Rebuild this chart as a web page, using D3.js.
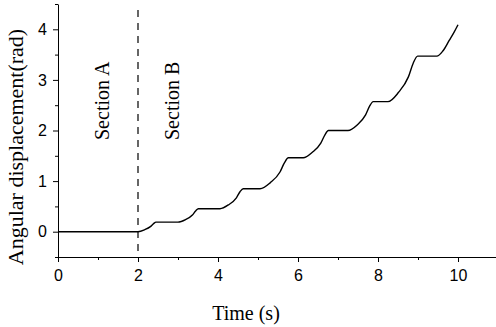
<!DOCTYPE html>
<html>
<head>
<meta charset="utf-8">
<script src="https://cdn.jsdelivr.net/npm/d3@7"></script>
<style>
  body { margin: 0; background: #fff; }
  svg { display: block; }
</style>
</head>
<body>
<svg id="chart" width="496" height="327"></svg>
<script>
// Angular displacement (rad) vs time (s)
const timeS = [0, 2.0, 2.17, 2.31, 2.39, 2.45, 3.0, 3.19, 3.36, 3.44, 3.51, 4.05, 4.26, 4.46, 4.55, 4.63,
  5.05, 5.31, 5.55, 5.66, 5.76, 6.13, 6.36, 6.57, 6.67, 6.76, 7.25, 7.48, 7.69, 7.79, 7.88,
  8.25, 8.51, 8.76, 8.88, 8.99, 9.47, 9.62, 9.78, 9.9, 10.0];
const angleRad = [0, 0, 0.04, 0.10, 0.16, 0.19, 0.19, 0.24, 0.33, 0.41, 0.455, 0.455, 0.53, 0.67, 0.79, 0.85,
  0.85, 0.97, 1.18, 1.36, 1.46, 1.46, 1.57, 1.75, 1.91, 2.0, 2.0, 2.11, 2.31, 2.48, 2.57,
  2.57, 2.75, 3.06, 3.33, 3.47, 3.47, 3.57, 3.78, 3.94, 4.09];

const xTicks = [0, 2, 4, 6, 8, 10];
const xMinorTicks = [1, 3, 5, 7, 9, 11];
const yTicks = [0, 1, 2, 3, 4];
const yMinorTicks = [-0.5, 0.5, 1.5, 2.5, 3.5, 4.5];
const sectionBoundary = 2;
const sectionLabels = ['Section A', 'Section B'];

const svg = d3.select('#chart');
const margin = { top: 4, left: 58 };
const width = 440;
const height = 253;

const g = svg.append('g')
  .attr('transform', `translate(${margin.left},${margin.top})`);

const x = d3.scaleLinear().domain([0, 11]).range([0, width]);
const y = d3.scaleLinear().domain([-0.5, 4.5]).range([height, 0]);

// X axis (major + minor ticks, outward)
g.append('g')
  .attr('transform', `translate(0,${height})`)
  .call(d3.axisBottom(x).tickValues(xTicks).tickFormat(d3.format('d'))
    .tickSize(5).tickSizeOuter(0).tickPadding(8));
g.append('g')
  .attr('transform', `translate(0,${height})`)
  .call(d3.axisBottom(x).tickValues(xMinorTicks).tickSize(3).tickSizeOuter(0).tickFormat(''))
  .select('.domain').remove();

// Y axis
g.append('g')
  .call(d3.axisLeft(y).tickValues(yTicks).tickFormat(d3.format('d'))
    .tickSize(5).tickSizeOuter(0).tickPadding(6));
g.append('g')
  .call(d3.axisLeft(y).tickValues(yMinorTicks).tickSize(3).tickSizeOuter(0).tickFormat(''))
  .select('.domain').remove();

g.selectAll('.tick line, .domain').attr('stroke', '#000').attr('stroke-width', 1);
g.selectAll('.tick text')
  .style('font-family', '"Liberation Sans", Arial, sans-serif')
  .style('font-size', '16px')
  .attr('fill', '#000');

// Section divider
g.append('line')
  .attr('x1', x(sectionBoundary))
  .attr('x2', x(sectionBoundary))
  .attr('y1', 6)
  .attr('y2', height)
  .attr('stroke', '#000')
  .attr('stroke-width', 1.2)
  .attr('stroke-dasharray', '7,6');

// Section labels
const serif = '"Liberation Serif", "Times New Roman", serif';
[[sectionLabels[0], 109, 140], [sectionLabels[1], 179, 140]].forEach(([t, bx, by]) => {
  svg.append('text')
    .attr('transform', `translate(${bx},${by}) rotate(-90)`)
    .style('font-family', serif)
    .style('font-size', '20px')
    .attr('fill', '#000')
    .text(t);
});

// Curve
const data = timeS.map((t, i) => ({ t, v: angleRad[i] }));
g.append('path')
  .datum(data)
  .attr('fill', 'none')
  .attr('stroke', '#000')
  .attr('stroke-width', 1.4)
  .attr('d', d3.line()
    .x(d => x(d.t))
    .y(d => y(d.v))
    .curve(d3.curveMonotoneX));

// Axis titles
svg.append('text')
  .attr('x', 246)
  .attr('y', 320)
  .attr('text-anchor', 'middle')
  .style('font-family', serif)
  .style('font-size', '20px')
  .attr('fill', '#000')
  .text('Time (s)');

svg.append('text')
  .attr('transform', 'translate(23,147) rotate(-90)')
  .attr('text-anchor', 'middle')
  .style('font-family', serif)
  .style('font-size', '22px')
  .attr('fill', '#000')
  .text('Angular displacement(rad)');
</script>
</body>
</html>
